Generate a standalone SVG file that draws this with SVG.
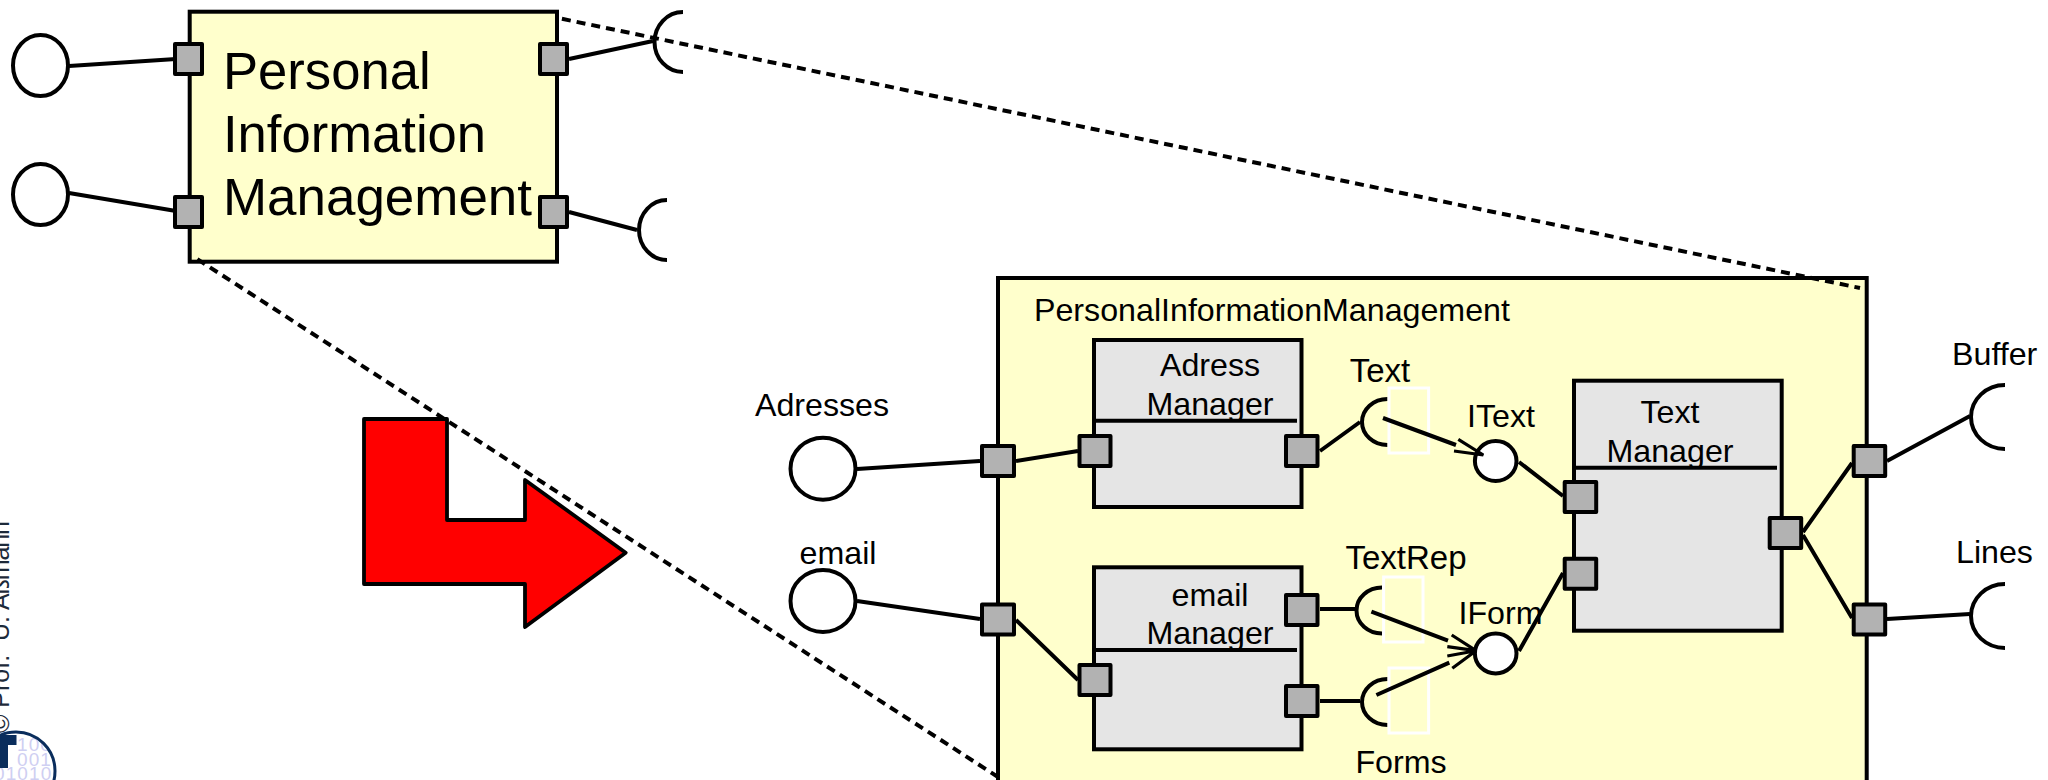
<svg xmlns="http://www.w3.org/2000/svg" width="2048" height="780" viewBox="0 0 2048 780">
<style>
text{font-family:"Liberation Sans",Arial,sans-serif;fill:#000}
.lbl{font-size:32.2px}
.mid{text-anchor:middle}
.big{font-size:52.6px}
.comp{fill:#FFFFCC;stroke:#000;stroke-width:4}
.sub{fill:#E5E5E5;stroke:#000;stroke-width:4}
.port{fill:#B2B2B2;stroke:#000;stroke-width:4;stroke-linejoin:round}
.c{fill:#fff;stroke:#000;stroke-width:4}
.a{fill:none;stroke:#000;stroke-width:4}
.l{fill:none;stroke:#000;stroke-width:4}
.h{fill:none;stroke:#000;stroke-width:3.2}
.w{fill:none;stroke:#fff;stroke-width:3}
.d{fill:none;stroke:#000;stroke-width:4;stroke-dasharray:9 6;stroke-dashoffset:-4}
.bit{font-size:19px;fill:#CFCFF2;letter-spacing:1.1px}
</style>
<defs><clipPath id="lc"><circle cx="16" cy="771" r="39"/></clipPath></defs>
<g id="footer">
<text transform="translate(8.5,733) rotate(-90)" font-size="25" style="fill:#1d2a3a">© Prof. <tspan x="92">U. </tspan><tspan x="123" style="letter-spacing:-1.1px">Aßmann</tspan></text>
<g clip-path="url(#lc)">
<text class="bit" x="17" y="751">100</text>
<text class="bit" x="17" y="766">001</text>
<text class="bit" x="-6" y="780">01010</text>
</g>
<circle cx="16" cy="771" r="39" fill="none" stroke="#0a2d5c" stroke-width="3"/>
<path d="M0 735H16.500V745H8V768H0Z" fill="#0a2d5c"/>
</g>
<g id="arrow-red"><path d="M364 419H447V520H525V480L625.700 552.700L525 627V584H364Z" fill="#f00" stroke="#000" stroke-width="3.800" stroke-linejoin="round"/></g>
<g id="PersonalInformationManagement-small">
<rect class="comp" x="189.700" y="11.700" width="367.300" height="250"/>
<text class="big" x="223" y="89">Personal</text>
<text class="big" x="223" y="152">Information</text>
<text class="big" x="223" y="215" textLength="309" lengthAdjust="spacingAndGlyphs">Management</text>
</g>
<g id="PersonalInformationManagement">
<rect class="comp" x="998" y="278" width="868.700" height="520"/>
<text class="lbl" x="1034" y="321">PersonalInformationManagement</text>
</g>
<g id="AdressManager">
<rect class="sub" x="1094" y="340" width="207.500" height="167"/>
<path class="l" d="M1094 420.700H1297"/>
<text class="lbl mid" x="1210" y="376">Adress</text>
<text class="lbl mid" x="1210" y="415">Manager</text>
</g>
<g id="emailManager">
<rect class="sub" x="1094" y="567.300" width="207.500" height="182"/>
<path class="l" d="M1094 650H1297"/>
<text class="lbl mid" x="1210" y="606">email</text>
<text class="lbl mid" x="1210" y="644">Manager</text>
</g>
<g id="TextManager">
<rect class="sub" x="1574" y="380.700" width="207.700" height="250"/>
<path class="l" d="M1574 467.700H1777"/>
<text class="lbl mid" x="1670" y="423">Text</text>
<text class="lbl mid" x="1670" y="462">Manager</text>
</g>
<g id="labels">
<text class="lbl mid" x="822" y="416">Adresses</text>
<text class="lbl mid" x="838" y="564">email</text>
<text class="lbl mid" x="1380" y="382" style="font-size:33px">Text</text>
<text class="lbl mid" x="1501" y="427">IText</text>
<text class="lbl mid" x="1406" y="569" style="font-size:33px">TextRep</text>
<text class="lbl mid" x="1500.500" y="624">IForm</text>
<text class="lbl mid" x="1401" y="773">Forms</text>
<text class="lbl mid" x="1994.700" y="365">Buffer</text>
<text class="lbl mid" x="1994.500" y="563">Lines</text>
</g>
<g id="connectors">
<path class="l" d="M69 66L176 59M69 193L176 211M569 59L653 41M569 212L637 230"/>
<path class="l" d="M857 469L980 461M1016 461L1078 451M857 601L980 619M1016 620L1078 680"/>
<path class="l" d="M1320 451L1360 422M1320 609H1355M1320 701H1360"/>
<path class="l" d="M1519 462L1563 496M1519 651L1563 573"/>
<path class="l" d="M1803 532L1852 463M1803 535L1852 618M1887 461L1970 416M1887 619L1970 614"/>
<path class="d" d="M558 18L1860 288M194 257L998 777"/>
</g>
<g id="interfaces">
<ellipse class="c" cx="40.500" cy="65.500" rx="27.500" ry="30.500"/>
<ellipse class="c" cx="40.500" cy="194.500" rx="27.500" ry="30.500"/>
<ellipse class="c" cx="823" cy="468.700" rx="32.500" ry="31"/>
<ellipse class="c" cx="823" cy="601" rx="32.500" ry="31"/>
<ellipse class="c" cx="1495.700" cy="461" rx="20.800" ry="20"/>
<ellipse class="c" cx="1495.700" cy="653.400" rx="20.800" ry="20"/>
<path class="a" d="M683 12A28.500 30 0 0 0 683 72"/>
<path class="a" d="M667 200A28 30 0 0 0 667 260"/>
<path class="a" d="M1387.500 399A25.500 23 0 0 0 1387.500 445"/>
<path class="a" d="M1382 587.500A25.500 23 0 0 0 1382 633.500"/>
<path class="a" d="M1387.500 679A25.500 23 0 0 0 1387.500 725"/>
<path class="a" d="M2005 385A34 32 0 0 0 2005 449"/>
<path class="a" d="M2005 584A34 32 0 0 0 2005 648"/>
<rect class="w" x="1389" y="388" width="39.600" height="65"/>
<rect class="w" x="1383.600" y="577" width="39.400" height="65"/>
<rect class="w" x="1389" y="668" width="39.600" height="65"/>
<path class="l" d="M1383 418L1456 445M1371.400 611.700L1448 640.700M1376.400 695L1449.300 662.700"/>
<path class="h" d="M1458.300 439.300L1483.300 455L1454 451M1451.700 635L1476 650.700L1447.300 646.700M1447.300 656L1476 650.700L1452.300 668.300"/>
</g>
<g id="ports">
<rect class="port" x="175" y="44" width="27" height="30"/>
<rect class="port" x="175" y="197" width="27" height="30"/>
<rect class="port" x="540" y="44" width="27" height="30"/>
<rect class="port" x="540" y="197" width="27" height="30"/>
<rect class="port" x="982" y="446" width="32" height="30"/>
<rect class="port" x="982" y="604.500" width="32" height="30"/>
<rect class="port" x="1079.500" y="436" width="31" height="30"/>
<rect class="port" x="1079.500" y="665" width="31" height="30"/>
<rect class="port" x="1286" y="436" width="31.500" height="30"/>
<rect class="port" x="1286" y="595" width="31.500" height="30"/>
<rect class="port" x="1286" y="686" width="31.500" height="30"/>
<rect class="port" x="1564.700" y="482" width="31.500" height="30"/>
<rect class="port" x="1564.700" y="558.700" width="31.500" height="30"/>
<rect class="port" x="1769.700" y="518" width="31.500" height="30"/>
<rect class="port" x="1853.700" y="446" width="31.500" height="30"/>
<rect class="port" x="1853.700" y="604.500" width="31.500" height="30"/>
</g>
</svg>
